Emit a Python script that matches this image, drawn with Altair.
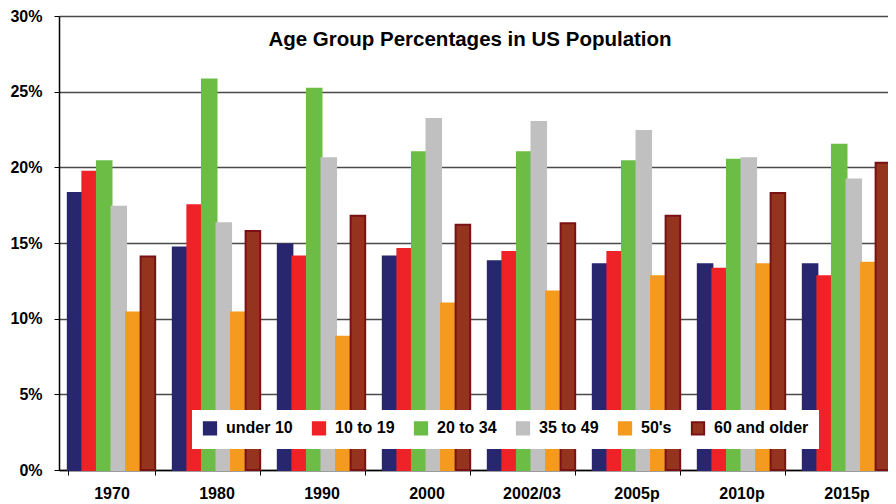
import altair as alt
import pandas as pd

years = ["1970", "1980", "1990", "2000", "2002/03", "2005p", "2010p", "2015p"]
groups = ["under 10", "10 to 19", "20 to 34", "35 to 49", "50's", "60 and older"]
under10 = [18.3, 14.7, 14.9, 14.1, 13.8, 13.6, 13.6, 13.6]
a10_19 = [19.7, 17.5, 14.1, 14.6, 14.4, 14.4, 13.3, 12.8]
a20_34 = [20.4, 25.8, 25.2, 21.0, 21.0, 20.4, 20.5, 21.5]
a35_49 = [17.4, 16.3, 20.6, 23.2, 23.0, 22.4, 20.6, 19.2]
a50s = [10.4, 10.4, 8.8, 11.0, 11.8, 12.8, 13.6, 13.7]
a60 = [14.1, 15.8, 16.8, 16.2, 16.3, 16.8, 18.3, 20.3]
fills = ["#27266e", "#ee2227", "#6cbd45", "#c0c0c0", "#f49a1f", "#94341e"]
strokes = ["#27266e", "#ee2227", "#6cbd45", "#c0c0c0", "#f49a1f", "#7a1215"]
title_text = "Age Group Percentages in US Population"

series = [under10, a10_19, a20_34, a35_49, a50s, a60]
rows = []
for g, vals in zip(groups, series):
    for y, v in zip(years, vals):
        rows.append({"year": y, "group": g, "value": v})
df = pd.DataFrame(rows)

FONT = "Liberation Sans"

leg = alt.Legend(
    orient="none",
    legendX=133,
    legendY=394,
    direction="horizontal",
    fillColor="white",
    padding=10,
    symbolType="square",
    symbolSize=150,
    symbolStrokeWidth=2,
    labelFont=FONT,
    labelFontSize=16,
    labelFontWeight="bold",
    labelColor="black",
    labelOffset=8,
    columnPadding=15,
)

bars = alt.Chart(df).mark_bar(strokeWidth=2).encode(
    x=alt.X(
        "year:N",
        sort=years,
        title=None,
        scale=alt.Scale(paddingInner=0.168, paddingOuter=0.084, range=[0, 840]),
        axis=alt.Axis(
            tickBand="extent",
            labelAngle=0,
            labelFont=FONT,
            labelFontSize=16,
            labelFontWeight="bold",
            labelColor="black",
            labelPadding=10,
            tickSize=5,
            tickColor="black",
            domainColor="black",
            domainWidth=1.5,
        ),
    ),
    xOffset=alt.XOffset("group:N", sort=groups, scale=alt.Scale(paddingInner=0, paddingOuter=0)),
    y=alt.Y(
        "value:Q",
        title=None,
        scale=alt.Scale(domain=[0, 30], nice=False),
        axis=alt.Axis(
            values=[0, 5, 10, 15, 20, 25, 30],
            labelExpr="datum.value + '%'",
            labelFont=FONT,
            labelFontSize=16,
            labelFontWeight="bold",
            labelColor="black",
            labelPadding=12,
            tickSize=5,
            tickColor="black",
            domainColor="black",
            domainWidth=1.5,
            grid=True,
            gridColor="#4a4a4a",
            gridWidth=1.3,
        ),
    ),
    color=alt.Color("group:N", sort=groups, title=None,
                    scale=alt.Scale(domain=groups, range=fills), legend=leg),
    stroke=alt.Stroke("group:N", sort=groups, title=None,
                      scale=alt.Scale(domain=groups, range=strokes), legend=leg),
)

title = alt.Chart(pd.DataFrame({"t": [title_text]})).mark_text(
    font=FONT, fontSize=20.5, fontWeight="bold", color="black", align="center", baseline="middle"
).encode(text="t:N", x=alt.value(411), y=alt.value(24))

chart = alt.layer(bars, title).properties(
    width=829,
    height=454,
    autosize=alt.AutoSizeParams(type="none"),
    padding={"left": 51, "top": 8, "right": 0, "bottom": 36},
).configure_view(stroke="transparent")

chart.save("out.html", embed_options={"renderer": "svg", "actions": False})
